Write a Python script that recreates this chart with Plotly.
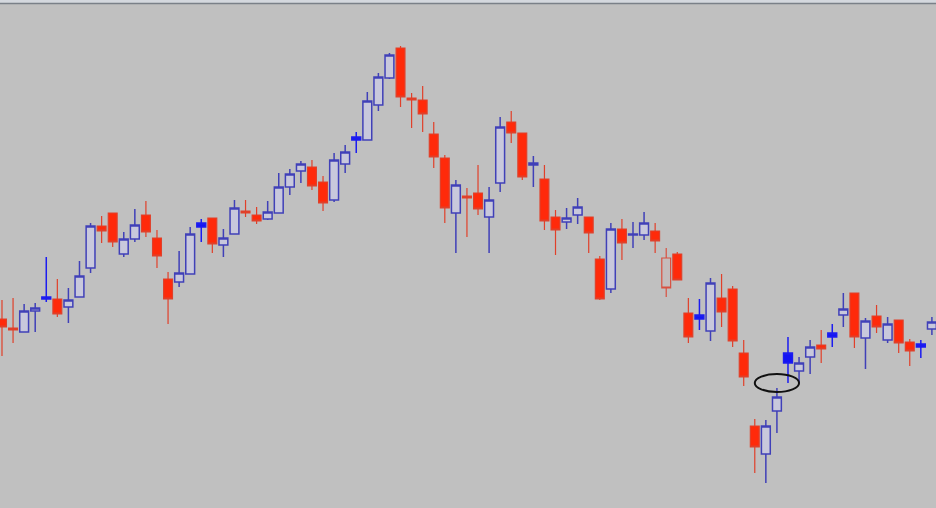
import plotly.graph_objects as go

# Candle data (arbitrary price units)
opens = [281, 272, 268, 289, 301, 301, 293, 303, 332, 374,
         387, 346, 361, 385, 362, 321, 318, 326, 373, 382,
         355, 366, 389, 385, 381, 387, 413, 429, 433, 418,
         400, 436, 460, 460, 495, 522, 552, 502, 500, 466,
         442, 387, 404, 407, 383, 417, 478, 467, 435, 421,
         383, 378, 385, 383, 341, 311, 371, 365, 365, 369,
         342, 346, 287, 281, 269, 302, 311, 247, 174, 146,
         189, 237, 229, 243, 255, 263, 285, 307, 262, 284,
         260, 280, 258, 253, 271]
highs = [300, 302, 296, 297, 343, 321, 312, 339, 377, 384,
         387, 368, 391, 399, 370, 328, 349, 373, 381, 382,
         371, 400, 400, 393, 399, 427, 431, 439, 440, 424,
         447, 455, 468, 508, 527, 547, 554, 507, 514, 478,
         445, 420, 412, 435, 413, 483, 489, 467, 444, 435,
         390, 392, 402, 383, 344, 377, 381, 378, 388, 377,
         352, 348, 302, 301, 322, 326, 314, 260, 181, 180,
         212, 263, 243, 260, 270, 276, 307, 307, 282, 295,
         283, 280, 261, 260, 283]
lows = [244, 257, 268, 268, 298, 283, 277, 303, 327, 357,
        353, 343, 358, 363, 332, 276, 313, 326, 358, 347,
        343, 366, 383, 376, 380, 387, 405, 417, 410, 389,
        398, 427, 447, 460, 489, 521, 493, 472, 468, 432,
        377, 347, 363, 385, 347, 408, 457, 420, 413, 370,
        345, 371, 376, 347, 300, 307, 340, 352, 360, 347,
        303, 320, 257, 270, 259, 273, 253, 214, 127, 117,
        167, 217, 217, 226, 237, 253, 273, 252, 231, 267,
        257, 247, 234, 242, 265]
closes = [273, 270, 289, 292, 303, 286, 300, 324, 374, 369,
          358, 361, 375, 368, 344, 301, 327, 366, 377, 356,
          362, 392, 387, 379, 388, 413, 426, 436, 414, 397,
          440, 448, 463, 499, 523, 545, 503, 500, 486, 443,
          392, 415, 402, 391, 400, 473, 467, 423, 437, 379,
          370, 382, 393, 367, 301, 371, 357, 366, 377, 359,
          312, 320, 263, 285, 317, 288, 259, 223, 153, 174,
          203, 247, 237, 253, 251, 267, 291, 263, 279, 273,
          276, 257, 249, 256, 278]
# candle drawing style: u = hollow up, U = filled up, d = filled down, h = hollow down
kinds = list("dduuUduuud" "duuddduuUd" "uudduuuudd" "uuUuuudddd" "dudduuddud"
             "duudduduud" "hddUuddddu" "uUuudUudud" "uddUu")
x_index = list(range(len(opens)))
assert len(kinds) == len(opens)

# annotation ellipse (candle index and price span it surrounds)
ellipse_x = (68.0, 72.0)
ellipse_y = (208, 226)

BG = "#c0c0c0"
styles = {
    "u": dict(line="#4040b8", fill="#c8c8dc", width=1.5),
    "U": dict(line="#1c1cf0", fill="#1414f4", width=1.5),
    "d": dict(line="#e0402a", fill="#ff2a0a", width=1.2),
    "h": dict(line="#d85040", fill="#c4bcbc", width=1.2),
}

fig = go.Figure()
for k, st in styles.items():
    idx = [i for i, kk in enumerate(kinds) if kk == k]
    if not idx:
        continue
    fig.add_trace(go.Candlestick(
        x=[x_index[i] for i in idx],
        open=[opens[i] for i in idx],
        high=[highs[i] for i in idx],
        low=[lows[i] for i in idx],
        close=[closes[i] for i in idx],
        increasing=dict(line=dict(color=st["line"], width=st["width"]), fillcolor=st["fill"]),
        decreasing=dict(line=dict(color=st["line"], width=st["width"]), fillcolor=st["fill"]),
        showlegend=False,
        hoverinfo="skip",
    ))

fig.add_shape(type="circle", xref="x", yref="y",
              x0=ellipse_x[0], x1=ellipse_x[1], y0=ellipse_y[0], y1=ellipse_y[1],
              line=dict(color="#111111", width=2))
# window frame at the top
fig.add_shape(type="rect", xref="paper", yref="paper", x0=0, x1=1,
              y0=1 - 3 / 508, y1=1, fillcolor="#d4d8de", line=dict(width=0), layer="above")
fig.add_shape(type="line", xref="paper", yref="paper", x0=0, x1=1,
              y0=1 - 3.5 / 508, y1=1 - 3.5 / 508, line=dict(color="#7a8088", width=1.5), layer="above")

fig.update_layout(
    width=936, height=508,
    margin=dict(l=0, r=0, t=0, b=0),
    paper_bgcolor=BG, plot_bgcolor=BG,
    boxgap=0.2, boxgroupgap=0,
    xaxis=dict(range=[-0.18, 84.37], visible=False, showgrid=False, zeroline=False,
               rangeslider=dict(visible=False)),
    yaxis=dict(range=[92, 600], visible=False, showgrid=False, zeroline=False),
)
fig.write_html("out.html", config={"displayModeBar": False},
               post_script="document.body.style.margin='0';document.body.style.background='#c0c0c0';")
